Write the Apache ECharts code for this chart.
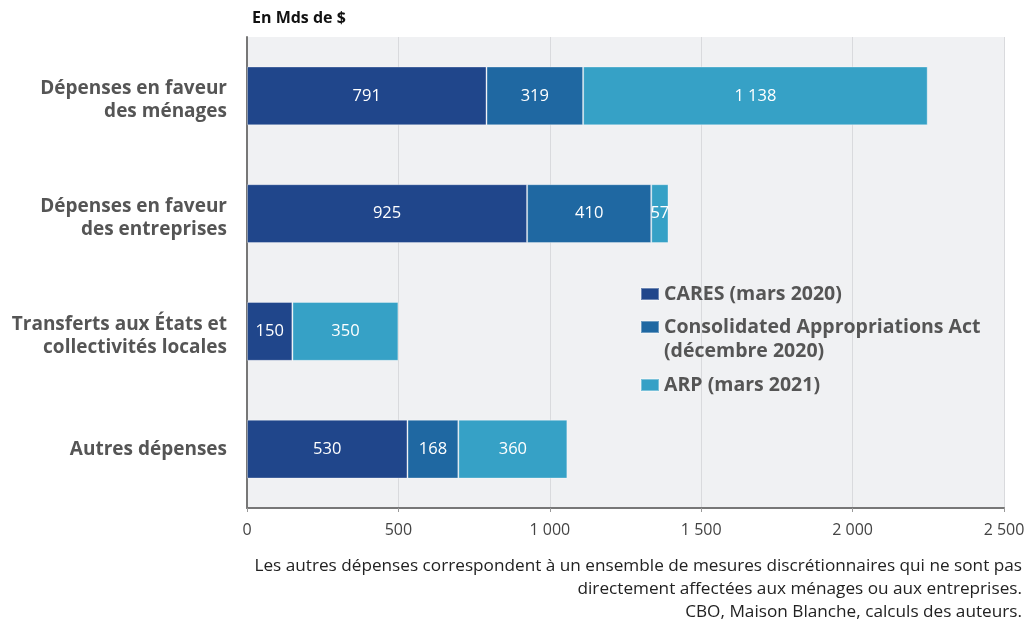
<!DOCTYPE html>
<html>
<head>
<meta charset="utf-8">
<script src="https://cdn.jsdelivr.net/npm/echarts@6/dist/echarts.min.js"></script>
<style>
  html, body { margin: 0; padding: 0; background: #fff; }
</style>
</head>
<body>
<div id="main" style="width: 1028px; height: 620px;"></div>
<script>
var categories = ['Dépenses en faveur\ndes ménages', 'Dépenses en faveur\ndes entreprises', 'Transferts aux États et\ncollectivités locales', 'Autres dépenses'];
var cares = [791, 925, 150, 530];
var caa = [319, 410, 0, 168];
var arp = [1138, 57, 350, 360];
var seriesNames = ['CARES (mars 2020)', 'Consolidated Appropriations Act (décembre 2020)', 'ARP (mars 2021)'];
var colors = ['#20468b', '#1f68a2', '#36a1c6'];
var xTicks = [0, 500, 1000, 1500, 2000, 2500];
var notes = [
  'Les autres dépenses correspondent à un ensemble de mesures discrétionnaires qui ne sont pas',
  'directement affectées aux ménages ou aux entreprises.',
  'CBO, Maison Blanche, calculs des auteurs.'
];

var font = '"Open Sans", "DejaVu Sans", sans-serif';

function fmt(v) {
  return String(v).replace(/\B(?=(\d{3})+(?!\d))/g, ' ');
}

var myChart = echarts.init(document.getElementById('main'));

function makeSeries(name, data, color) {
  return {
    name: name,
    type: 'bar',
    stack: 'total',
    barCategoryGap: '50%',
    data: data,
    itemStyle: { color: color, borderColor: 'rgba(255,255,255,0.35)', borderWidth: 1 },
    label: {
      show: true,
      position: 'inside',
      color: '#fff',
      fontFamily: font,
      fontSize: 16.5,
      formatter: function (p) { return p.value ? fmt(p.value) : ''; }
    }
  };
}

var graphics = [
  {
    type: 'text', x: 252, y: 18,
    style: { text: 'En Mds de $', font: 'bold 16px ' + font, fill: '#111', verticalAlign: 'middle' }
  }
];
notes.forEach(function (t, i) {
  graphics.push({
    type: 'text', x: 1022, y: 566 + i * 23,
    style: { text: t, font: '17.2px ' + font, fill: '#222', align: 'right', verticalAlign: 'middle' }
  });
});

var legendText = { fontFamily: font, fontSize: 19.5, fontWeight: 'bold', color: '#555', lineHeight: 24 };

var option = {
  animation: false,
  textStyle: { fontFamily: font },
  grid: {
    left: 247, right: 24, top: 37, bottom: 112,
    show: true, backgroundColor: '#f0f1f3', borderWidth: 0
  },
  legend: [
    {
      orient: 'vertical',
      left: 635,
      top: 277,
      itemWidth: 18,
      itemHeight: 12,
      itemGap: -15,
      icon: 'rect',
      textStyle: legendText,
      formatter: function (name) {
        if (name === seriesNames[1]) {
          return ' \nConsolidated Appropriations Act\n(décembre 2020)';
        }
        return name;
      },
      data: [seriesNames[0], seriesNames[1]]
    },
    {
      orient: 'vertical',
      left: 635,
      top: 368,
      itemWidth: 18,
      itemHeight: 12,
      icon: 'rect',
      textStyle: legendText,
      data: [seriesNames[2]]
    }
  ],
  xAxis: {
    type: 'value',
    min: xTicks[0],
    max: xTicks[xTicks.length - 1],
    interval: 500,
    axisLine: { show: true, lineStyle: { color: '#777', width: 2 } },
    axisTick: { show: true, length: 4, lineStyle: { color: '#999' } },
    splitLine: { show: true, lineStyle: { color: '#d9dadd', width: 1 } },
    axisLabel: {
      color: '#444', fontSize: 16, margin: 14, fontFamily: font,
      formatter: function (v) { return fmt(v); }
    }
  },
  yAxis: {
    type: 'category',
    inverse: true,
    data: categories,
    axisLine: { show: true, lineStyle: { color: '#777', width: 2 } },
    axisTick: { show: false },
    axisLabel: {
      color: '#555', fontSize: 19, fontWeight: 'bold', margin: 20,
      lineHeight: 23, fontFamily: font, align: 'right',
      formatter: function (v) {
        var parts = v.split('\n');
        if (parts.length < 2) return '{a|' + v + '}';
        return parts.map(function (s) { return '{p|' + s + '}'; }).join('\n');
      },
      rich: {
        a: { color: '#555', fontSize: 19, fontWeight: 'bold', lineHeight: 23, fontFamily: font },
        p: { color: '#555', fontSize: 19, fontWeight: 'bold', lineHeight: 23, fontFamily: font, padding: [9, 0, 0, 0] }
      }
    }
  },
  series: [
    makeSeries(seriesNames[0], cares, colors[0]),
    makeSeries(seriesNames[1], caa, colors[1]),
    makeSeries(seriesNames[2], arp, colors[2])
  ],
  color: colors,
  graphic: graphics
};

myChart.setOption(option);
</script>
</body>
</html>
